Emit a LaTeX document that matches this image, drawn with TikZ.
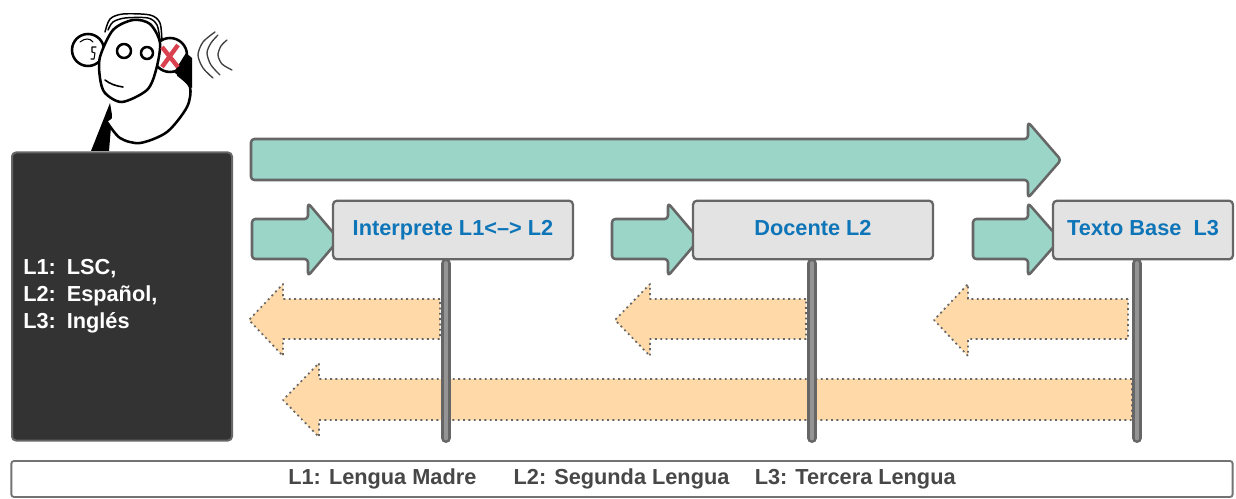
\documentclass[tikz,border=0pt]{standalone}
\usepackage{fontspec}
\setmainfont{Liberation Sans}
\definecolor{tealf}{HTML}{9AD5C8}
\definecolor{edge}{HTML}{666666}
\definecolor{orangef}{HTML}{FFD9A8}
\definecolor{boxf}{HTML}{E3E3E3}
\definecolor{bluet}{HTML}{0E75B8}
\definecolor{darkf}{HTML}{333333}
\definecolor{redx}{HTML}{D9414F}
\newcommand{\rarrow}[7]{% x0 xhead xtip ytop ybot htop hbot
  \draw[tealarrow] (#1,#4) -- (#2,#4) -- (#2,#6) -- (#3,{(#6+#7)/2}) -- (#2,#7) -- (#2,#5) -- (#1,#5) -- cycle;}
\newcommand{\larrow}[7]{% xright xhead xtip ytop ybot htop hbot
  \draw[orangearrow] (#1,#4) -- (#2,#4) -- (#2,#6) -- (#3,{(#6+#7)/2}) -- (#2,#7) -- (#2,#5) -- (#1,#5) -- cycle;}
\tikzset{
  x=0.75pt, y=-0.75pt,
  tealarrow/.style={fill=tealf, draw=edge, line width=1.9pt, rounded corners=2.5pt, line join=round},
  orangearrow/.style={fill=orangef, draw=edge, line width=1.3pt, dash pattern=on 1.4pt off 2.6pt, line join=round},
  labelbox/.style={fill=boxf, draw=edge, line width=1.7pt, rounded corners=3pt, minimum height=44pt, text=bluet, font=\fontsize{16.3pt}{19pt}\bfseries, inner sep=0pt},
  poleout/.style={draw=edge, line width=7.5pt, line cap=round},
  polein/.style={draw=black!42, line width=3.6pt, line cap=round},
  ink/.style={draw=black, line width=1.9pt, line cap=round, line join=round},
  wave/.style={draw=black!75, line width=1pt, line cap=round},
}
\begin{document}
\begin{tikzpicture}
\useasboundingbox (0,0) rectangle (1236,499);
\fill[white] (0,0) rectangle (1236,499);

% monkey
\draw[ink, line width=1.1pt] plot[smooth] coordinates {(105,32) (110,19) (123,14) (150,15) (160,23) (162,43)};
\draw[ink, line width=1.1pt] plot[smooth] coordinates {(108,30) (113,22) (125,18) (148,18) (157,25) (160,40)};
\fill[black] (110,103) -- (91,151) -- (109,151) -- (112,115) -- cycle;
\draw[ink, fill=white] plot[smooth] coordinates {(107,122) (120,138) (140,143) (167,132) (187,107) (190,87) (178,75)};
\draw[ink, fill=white] (170,55) circle[radius=17];
\fill[black] (174,72) -- (186,53) -- (192,58) -- (192,88) -- (183,80) -- cycle;
\draw[ink, fill=white] (88,50) circle[radius=16];
\draw[ink, line width=0.8pt] (80,42) .. controls (85,38) and (90,38) .. (93,42);
\draw[ink, line width=0.8pt] (96,47) -- (92,47) -- (92,52) -- (95,53) -- (94,59) -- (91,59);
\draw[ink, fill=white] plot[smooth cycle] coordinates {(133,20) (150,24) (160,43) (156,70) (147,90) (122,102) (105,93) (100,78) (100,57) (113,30)};
\draw[ink] (124,51) circle[radius=7];
\draw[ink] (147,53) circle[radius=6];
\draw[ink, line width=1.2pt] (105,80) .. controls (110,84) and (116,86) .. (123,87);
\draw[redx, line width=3.3pt] (162,47) -- (178,67) (178,45) -- (162,67);
\draw[wave] plot[smooth] coordinates {(213,78) (203,68) (198,55) (203,42) (215,32)};
\draw[wave] plot[smooth] coordinates {(220,75) (211,65) (207,53) (211,43) (218,35)};
\draw[wave] plot[smooth] coordinates {(232,70) (222,64) (218,55) (221,46) (227,40)};

% dark panel
\node[fill=darkf, draw=edge, line width=1.5pt, rounded corners=3pt, minimum width=165pt, minimum height=216pt, inner sep=0pt,
      text=white, font=\fontsize{16.3pt}{20.2pt}\bfseries, align=left, text width=148pt] (panel) at (122,296.5)
      {L1: LSC,\\L2: Español,\\L3: Inglés};

% teal arrows
\rarrow{251}{1028}{1061}{139}{180}{122}{198}
\rarrow{252}{308}{339}{219}{259}{203}{276}
\rarrow{612}{668}{699}{219}{259}{203}{276}
\rarrow{973}{1028}{1060}{219}{259}{203}{276}

% orange arrows
\larrow{440}{283}{249}{299}{339}{284}{356}
\larrow{806}{650}{615}{299}{339}{284}{356}
\larrow{1128}{968}{934}{299}{339}{284}{356}
\larrow{1132}{319}{283}{379}{420}{363}{437}

% boxes
\node[labelbox, minimum width=180pt] (b1) at (453,230) {\raisebox{3pt}{Interprete L1<--> L2}};
\node[labelbox, minimum width=180pt] (b2) at (813,230) {\raisebox{3pt}{Docente L2}};
\node[labelbox, minimum width=135pt] (b3) at (1143,230) {\raisebox{3pt}{Texto Base\ \ L3}};

% poles
\coordinate (p1) at (446,438);
\coordinate (p2) at (812,438);
\coordinate (p3) at (1137,438);
\foreach \b/\p in {b1/p1,b2/p2,b3/p3}{
  \draw[poleout] (\p |- \b.south) ++(0,3) -- (\p);
  \draw[polein] (\p |- \b.south) ++(0,3) -- (\p);
}

% legend
\node[fill=white, draw=black!55, line width=1.4pt, rounded corners=2pt, minimum width=916pt, minimum height=27pt, inner sep=0pt,
      text=black!72, font=\fontsize{16.3pt}{19pt}\bfseries] (legend) at (622,479)
      {L1: Lengua Madre\hspace{28pt}L2: Segunda Lengua\hspace{19pt}L3: Tercera Lengua};
\end{tikzpicture}
\end{document}
